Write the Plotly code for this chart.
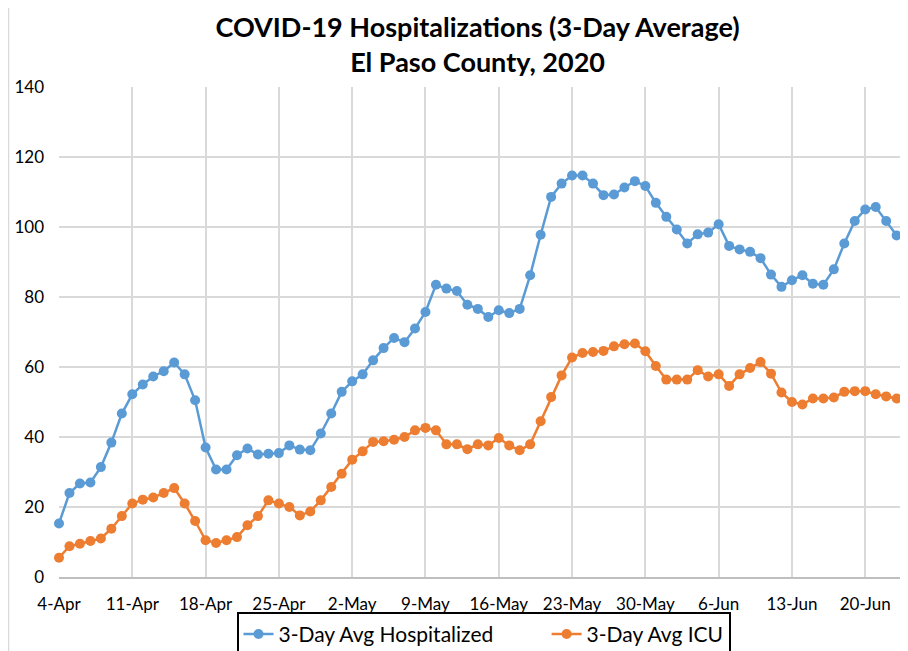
import pandas as pd
import plotly.graph_objects as go

START_DATE = "2020-04-04"
N_DAYS = 82

HOSPITALIZED = [
    15.3, 24.0, 26.7, 27.0, 31.4, 38.4, 46.7, 52.2, 55.0, 57.3,
    58.8, 61.3, 57.9, 50.5, 37.0, 30.7, 30.7, 34.8, 36.7, 35.0,
    35.2, 35.4, 37.6, 36.4, 36.2, 41.0, 46.7, 52.9, 55.9, 57.9,
    61.9, 65.4, 68.3, 67.1, 71.0, 75.7, 83.5, 82.4, 81.7, 77.8,
    76.6, 74.3, 76.2, 75.4, 76.6, 86.2, 97.8, 108.6, 112.4, 114.7,
    114.7, 112.4, 109.1, 109.3, 111.3, 113.1, 111.7, 106.9, 102.9, 99.3,
    95.3, 97.9, 98.4, 100.8, 94.6, 93.6, 92.9, 91.1, 86.4, 82.9,
    84.8, 86.2, 83.8, 83.5, 87.9, 95.3, 101.7, 105.0, 105.7, 101.7,
    97.6, 99.3,
]

ICU = [
    5.5, 8.8, 9.5, 10.3, 11.0, 13.8, 17.4, 21.0, 22.1, 22.7,
    24.0, 25.4, 21.0, 16.0, 10.5, 9.7, 10.5, 11.4, 14.8, 17.4,
    21.9, 21.0, 20.0, 17.6, 18.7, 21.9, 25.7, 29.5, 33.5, 35.9,
    38.6, 38.8, 39.2, 40.0, 41.9, 42.6, 41.9, 37.9, 37.9, 36.5,
    37.9, 37.6, 39.7, 37.6, 36.2, 37.9, 44.5, 51.4, 57.6, 62.7,
    64.0, 64.3, 64.6, 65.9, 66.5, 66.7, 64.5, 60.3, 56.4, 56.4,
    56.4, 59.1, 57.3, 57.9, 54.6, 57.9, 59.7, 61.4, 58.1, 52.7,
    50.0, 49.3, 51.0, 51.0, 51.3, 52.9, 53.1, 53.1, 52.2, 51.6,
    51.0, 49.3,
]

SERIES_NAMES = ["3-Day Avg Hospitalized", "3-Day Avg ICU"]
TICK_LABELS = ["4-Apr", "11-Apr", "18-Apr", "25-Apr", "2-May", "9-May", "16-May",
               "23-May", "30-May", "6-Jun", "13-Jun", "20-Jun"]
Y_TICKS = [0, 20, 40, 60, 80, 100, 120, 140]

dates = pd.date_range(START_DATE, periods=N_DAYS, freq="D")
tick_dates = pd.date_range(START_DATE, periods=len(TICK_LABELS), freq="7D")

FONT = "Lato, 'Open Sans', sans-serif"
BLUE = "#5B9BD5"
ORANGE = "#ED7D31"
PAD = "\u00a0" * 9  # spacing between the two legend entries

fig = go.Figure()
fig.add_trace(go.Scatter(
    x=dates, y=HOSPITALIZED, name=SERIES_NAMES[0] + PAD,
    mode="lines+markers", cliponaxis=False,
    line=dict(color=BLUE, width=2.5),
    marker=dict(color=BLUE, size=10),
))
fig.add_trace(go.Scatter(
    x=dates, y=ICU, name=SERIES_NAMES[1],
    mode="lines+markers", cliponaxis=False,
    line=dict(color=ORANGE, width=2.5),
    marker=dict(color=ORANGE, size=10),
))

fig.update_layout(
    width=900, height=643,
    margin=dict(l=51, r=0, t=79, b=74, autoexpand=False),
    paper_bgcolor="white", plot_bgcolor="white",
    font=dict(family=FONT, color="#000000", size=17),
    title=dict(
        text="<b>COVID-19 Hospitalizations (3-Day Average)</b><br><b>El Paso County, 2020</b>",
        x=0.493, xref="paper", xanchor="center",
        y=0.955, yref="container", yanchor="middle",
        font=dict(family=FONT, size=27, color="#000000"),
    ),
    showlegend=True,
    legend=dict(
        orientation="h", x=0.5, xanchor="center", xref="paper",
        y=-0.071, yanchor="top",
        bordercolor="#000000", borderwidth=2, bgcolor="white",
        font=dict(family=FONT, size=21, color="#000000"),
        tracegroupgap=0,
    ),
    xaxis=dict(
        range=[pd.Timestamp(START_DATE), pd.Timestamp("2020-06-24 02:00")],
        tickvals=tick_dates, ticktext=TICK_LABELS,
        showgrid=True, gridcolor="#d9d9d9", gridwidth=1.5,
        showline=True, linecolor="#bfbfbf", linewidth=1.5,
        ticks="", ticklabelstandoff=11,
        tickfont=dict(family=FONT, size=17, color="#000000"),
        zeroline=False,
    ),
    yaxis=dict(
        range=[0, 140], tickvals=Y_TICKS,
        showgrid=True, gridcolor="#d9d9d9", gridwidth=1.5,
        showline=False, zeroline=False,
        ticks="", ticklabelstandoff=14,
        tickfont=dict(family=FONT, size=17, color="#000000"),
    ),
    shapes=[dict(type="line", xref="paper", yref="paper", x0=-0.0595, x1=-0.0595,
                 y0=-0.2, y1=1.2, line=dict(color="#d9d9d9", width=1.5))],
)

fig.write_html("out.html")
